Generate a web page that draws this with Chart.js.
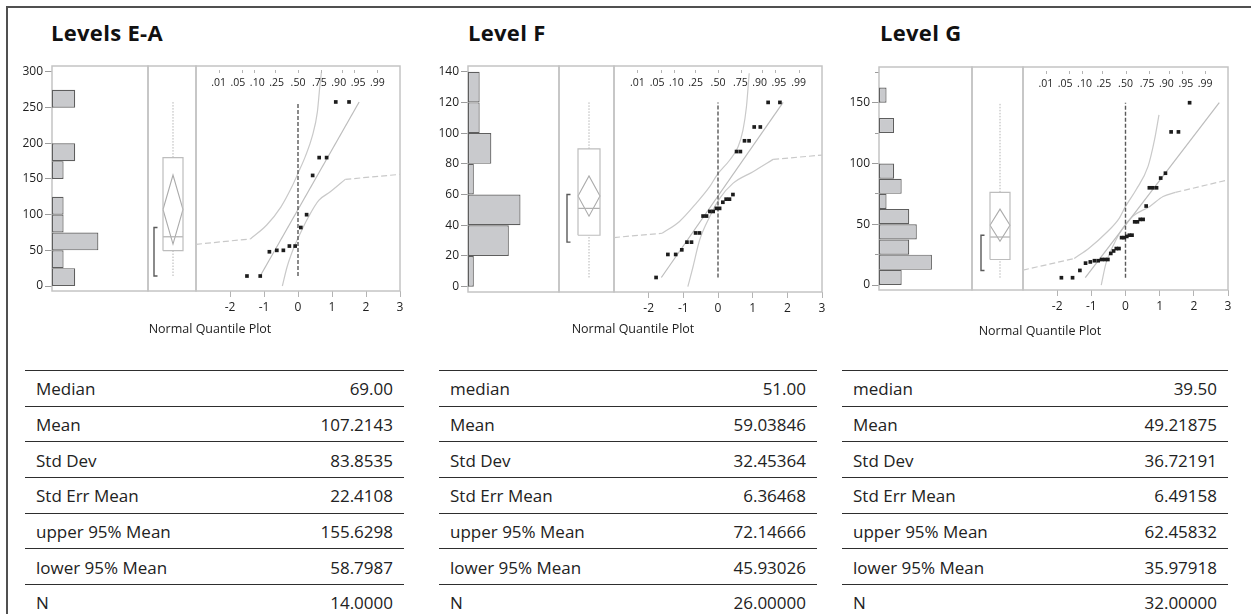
<!DOCTYPE html>
<html>
<head>
<meta charset="utf-8">
<title>Distributions by level</title>
<script src="https://cdn.jsdelivr.net/npm/chart.js@4.4.1/dist/chart.umd.min.js"></script>
<style>
  html, body { margin: 0; padding: 0; background: #fff; }
  #fig { position: relative; width: 1251px; height: 614px; overflow: hidden; background: #fff;
         font-family: "Open Sans", "Noto Sans", sans-serif; color: #1b1b1b; }
  #fig canvas { position: absolute; }
  .edge { position: absolute; background: #505050; }
  .title { position: absolute; font-size: 22px; font-weight: 700; line-height: 22px; letter-spacing: 0.3px; white-space: nowrap; color: #111; }
  .axis-name { position: absolute; font-size: 12.5px; line-height: 14px; white-space: nowrap; transform: translateX(-50%); color: #222; }
  .row { position: absolute; box-sizing: border-box; border-top: 1.5px solid #2e2e2e; font-size: 17px; color: #222; }
  .row span { position: absolute; top: 50%; transform: translateY(-50%); white-space: nowrap; }
  .row .lbl { left: 11px; }
  .row .val { right: 11px; }
</style>
</head>
<body>
<div id="fig">
  <div class="edge" style="left:6px;top:6px;width:1245px;height:2px"></div>
  <div class="edge" style="left:6px;top:6px;width:2px;height:608px"></div>
</div>
<script>
// ---------- observations per level ----------
const valuesEA = [14, 14, 48, 50, 50, 56, 56, 82, 100, 155, 180, 180, 258, 258];
const valuesF  = [6, 21, 21, 24, 29, 29, 35, 35, 46, 46, 49, 49, 51, 51, 55, 57, 57, 60, 88, 88, 95, 95, 104, 104, 120, 120];
const valuesG  = [6, 6, 12, 18, 19, 20, 20, 21, 21, 21, 26, 28, 30, 30, 39, 39, 40, 41, 41, 52, 52, 54, 54, 65, 80, 80, 80, 88, 92, 126, 126, 150];

// histogram bin widths
const binWidthEA = 25;
const binWidthF  = 20;
const binWidthG  = 12.5;

// value axis ticks
const yTicksEA = [0, 50, 100, 150, 200, 250, 300];
const yTicksF  = [0, 20, 40, 60, 80, 100, 120, 140];
const yTicksG  = [0, 50, 100, 150];
const yMinorTicksG = [25, 75, 125, 175];

// normal quantile axis ticks and probability scale
const zTicks = [-2, -1, 0, 1, 2, 3];
const probTicks  = [0.01, 0.05, 0.10, 0.25, 0.50, 0.75, 0.90, 0.95, 0.99];
const probLabels = ['.01', '.05', '.10', '.25', '.50', '.75', '.90', '.95', '.99'];

// summary statistics
const statNamesEA = ['Median', 'Mean', 'Std Dev', 'Std Err Mean', 'upper 95% Mean', 'lower 95% Mean', 'N'];
const statNamesFG = ['median', 'Mean', 'Std Dev', 'Std Err Mean', 'upper 95% Mean', 'lower 95% Mean', 'N'];
const statsEA = ['69.00', '107.2143', '83.8535', '22.4108', '155.6298', '58.7987', '14.0000'];
const statsF  = ['51.00', '59.03846', '32.45364', '6.36468', '72.14666', '45.93026', '26.00000'];
const statsG  = ['39.50', '49.21875', '36.72191', '6.49158', '62.45832', '35.97918', '32.00000'];

// confidence bands of the quantile plots as [normal quantile, value]
const bandHiEAOut = [[-3, 58.4], [-1.4, 66]];
const bandHiEA    = [[-1.4, 66], [-0.92, 85.5], [-0.5, 111], [-0.18, 139], [0, 158], [0.21, 181], [0.42, 210], [0.57, 244], [0.64, 279], [0.69, 300]];
const bandLoEA    = [[-0.46, 0], [-0.32, 27], [-0.13, 53], [0.02, 69], [0.31, 97], [0.61, 120], [0.95, 132], [1.39, 149.5]];
const bandLoEAOut = [[1.39, 149.5], [3, 156.5]];

const bandHiFOut = [[-3, 32], [-1.61, 34.8]];
const bandHiF    = [[-1.61, 34.8], [-1.11, 42.5], [-0.63, 54.3], [-0.24, 65.1], [-0.03, 72.7], [0.34, 82.5], [0.58, 91.1], [0.72, 102], [0.82, 117], [0.9, 139]];
const bandLoF    = [[-0.87, 0], [-0.72, 13], [-0.53, 30.4], [-0.24, 45.6], [0.05, 57.5], [0.43, 67.3], [1.01, 74.9], [1.59, 82.9]];
const bandLoFOut = [[1.59, 82.9], [3, 85.7]];

const bandHiGOut = [[-3, 12.3], [-1.5, 21.8]];
const bandHiG    = [[-1.5, 21.8], [-1.06, 30.5], [-0.57, 42.8], [-0.18, 55.1], [0, 64.7], [0.31, 78.4], [0.66, 97.6], [0.85, 119.6], [0.98, 140]];
const bandLoG    = [[-0.71, 0], [-0.57, 18], [-0.37, 31.8], [-0.08, 46.9], [0.21, 56.5], [0.71, 64.7], [1.1, 72.9], [1.46, 76.2]];
const bandLoGOut = [[1.46, 76.2], [3, 86.5]];

// ---------- page layout ----------
const FONT = '"Open Sans", "Noto Sans", sans-serif';
const PAD = 12;       // spare room around each plot area
const AXIS_W = 52;    // width reserved for value tick labels
const XAXIS_H = 32;   // height of quantile tick labels
const ROW_H = 35.65;
const TABLE_TOP = 370;

const panels = [
  { title: 'Levels E-A', titleX: 51, values: valuesEA, binWidth: binWidthEA, yTicks: yTicksEA, yMinor: [],
    stats: statsEA, statNames: statNamesEA, yMin: -7.0, yMax: 308.4, histMax: 8.28,
    frame: { left: 52, top: 66, bottom: 291, histRight: 148, boxRight: 196, right: 400 },
    box: { bracket: 6, boxL: 15, boxR: 35, whisker: 25 },
    bands: { hi: bandHiEA, hiOut: bandHiEAOut, lo: bandLoEA, loOut: bandLoEAOut },
    axisNameX: 210, axisNameTop: 322, table: { left: 25, right: 404 } },
  { title: 'Level F', titleX: 468, values: valuesF, binWidth: binWidthF, yTicks: yTicksF, yMinor: [],
    stats: statsF, statNames: statNamesFG, yMin: -3.45, yMax: 143.7, histMax: 15.6,
    frame: { left: 468, top: 66, bottom: 292, histRight: 559, boxRight: 614, right: 822 },
    box: { bracket: 8, boxL: 19, boxR: 41, whisker: 30 },
    bands: { hi: bandHiF, hiOut: bandHiFOut, lo: bandLoF, loOut: bandLoFOut },
    axisNameX: 633, axisNameTop: 322, table: { left: 439, right: 817 } },
  { title: 'Level G', titleX: 880, values: valuesG, binWidth: binWidthG, yTicks: yTicksG, yMinor: yMinorTicksG,
    stats: statsG, statNames: statNamesFG, yMin: -4.1, yMax: 179.4, histMax: 12.3,
    frame: { left: 879, top: 67, bottom: 290, histRight: 972, boxRight: 1023, right: 1228 },
    box: { bracket: 9, boxL: 18, boxR: 38, whisker: 28 },
    bands: { hi: bandHiG, hiOut: bandHiGOut, lo: bandLoG, loOut: bandLoGOut },
    axisNameX: 1040, axisNameTop: 324, table: { left: 842, right: 1228 } }
];

// ---------- helpers ----------
function normInv(p) {
  const a = [-3.969683028665376e+01, 2.209460984245205e+02, -2.759285104469687e+02, 1.383577518672690e+02, -3.066479806614716e+01, 2.506628277459239e+00];
  const b = [-5.447609879822406e+01, 1.615858368580409e+02, -1.556989798598866e+02, 6.680131188771972e+01, -1.328068155288572e+01];
  const c = [-7.784894002430293e-03, -3.223964580411365e-01, -2.400758277161838e+00, -2.549732539343734e+00, 4.374664141464968e+00, 2.938163982698783e+00];
  const d = [7.784695709041462e-03, 3.224671290700398e-01, 2.445134137142996e+00, 3.754408661907416e+00];
  const pl = 0.02425;
  if (p < pl) {
    const q = Math.sqrt(-2 * Math.log(p));
    return (((((c[0]*q + c[1])*q + c[2])*q + c[3])*q + c[4])*q + c[5]) / ((((d[0]*q + d[1])*q + d[2])*q + d[3])*q + 1);
  }
  if (p > 1 - pl) {
    const q = Math.sqrt(-2 * Math.log(1 - p));
    return -(((((c[0]*q + c[1])*q + c[2])*q + c[3])*q + c[4])*q + c[5]) / ((((d[0]*q + d[1])*q + d[2])*q + d[3])*q + 1);
  }
  const q = p - 0.5, r = q * q;
  return (((((a[0]*r + a[1])*r + a[2])*r + a[3])*r + a[4])*r + a[5])*q / (((((b[0]*r + b[1])*r + b[2])*r + b[3])*r + b[4])*r + 1);
}

function quantile(sorted, p) {
  const n = sorted.length, pos = (n + 1) * p, lo = Math.floor(pos), f = pos - lo;
  if (lo < 1) return sorted[0];
  if (lo >= n) return sorted[n - 1];
  return sorted[lo - 1] + f * (sorted[lo] - sorted[lo - 1]);
}

function shortestHalf(sorted) {
  const n = sorted.length, k = Math.floor(n / 2) + 1;
  let best = 0, width = Infinity;
  for (let i = 0; i + k - 1 < n; i++) {
    const w = sorted[i + k - 1] - sorted[i];
    if (w < width) { width = w; best = i; }
  }
  return [sorted[best], sorted[best + k - 1]];
}

const pts = arr => arr.map(([x, y]) => ({ x, y }));

const fig = document.getElementById('fig');
function addCanvas(left, top, w, h) {
  const c = document.createElement('canvas');
  c.width = w; c.height = h;
  c.style.left = left + 'px'; c.style.top = top + 'px';
  c.style.width = w + 'px'; c.style.height = h + 'px';
  fig.appendChild(c);
  return c;
}
function addDiv(cls, text, style) {
  const el = document.createElement('div');
  el.className = cls;
  if (text !== null) el.textContent = text;
  Object.assign(el.style, style);
  fig.appendChild(el);
  return el;
}

// outline of each plot area
const framePlugin = {
  id: 'areaFrame',
  beforeDatasetsDraw(chart) {
    const { ctx, chartArea: a } = chart;
    ctx.save();
    ctx.strokeStyle = '#c4c4c4';
    ctx.lineWidth = 1.5;
    ctx.strokeRect(a.left, a.top, a.right - a.left, a.bottom - a.top);
    ctx.restore();
  }
};

// probability scale along the top of the quantile plot
const probAxisPlugin = {
  id: 'probAxis',
  afterDatasetsDraw(chart) {
    const { ctx, chartArea: a, scales: { x } } = chart;
    ctx.save();
    ctx.font = '10.5px ' + FONT;
    const items = probTicks.map((p, i) => {
      const px = x.getPixelForValue(normInv(p));
      return { px, c: px, w: ctx.measureText(probLabels[i]).width, text: probLabels[i] };
    });
    // push crowded labels apart
    for (let it = 0; it < 80; it++) {
      for (let i = 0; i < items.length - 1; i++) {
        const A = items[i], B = items[i + 1];
        const need = (A.w + B.w) / 2 + 4.5 - (B.c - A.c);
        if (need > 0) { A.c -= need / 2; B.c += need / 2; }
      }
    }
    ctx.strokeStyle = '#b4b4b4';
    ctx.lineWidth = 1;
    items.forEach(it => {
      const xx = Math.round(it.px) + 0.5;
      ctx.beginPath(); ctx.moveTo(xx, a.top + 4); ctx.lineTo(xx, a.top + 7); ctx.stroke();
    });
    ctx.fillStyle = '#1e1e1e';
    ctx.textAlign = 'center';
    ctx.textBaseline = 'middle';
    items.forEach(it => ctx.fillText(it.text, it.c, a.top + 17));
    ctx.restore();
  }
};

Chart.defaults.font.family = FONT;
Chart.defaults.color = '#1e1e1e';
Chart.defaults.animation = false;
Chart.defaults.responsive = false;
Chart.defaults.devicePixelRatio = 1;
Chart.defaults.plugins.legend.display = false;
Chart.defaults.plugins.tooltip.enabled = false;

const lineSet = (data, color, width, dash, extra) => Object.assign({
  type: 'scatter', data, showLine: true, borderColor: color, borderWidth: width,
  borderDash: dash || [], pointRadius: 0, fill: false, tension: 0
}, extra || {});

function buildPanel(p) {
  const f = p.frame;
  const sorted = p.values.slice().sort((a, b) => a - b);
  const n = sorted.length;
  const st = p.stats.map(Number);
  const median = st[0], mean = st[1], sd = st[2], upper95 = st[4], lower95 = st[5];
  const frameH = f.bottom - f.top;

  // ---- title ----
  addDiv('title', p.title, { left: p.titleX + 'px', top: '21px' });

  // ---- histogram ----
  const top = Math.max(...p.yTicks, ...(p.yMinor.length ? p.yMinor : [0]));
  const bins = [];
  for (let lo = 0; lo < top; lo += p.binWidth) {
    const hi = lo + p.binWidth;
    bins.push({ x: p.values.filter(v => v >= lo && v < hi).length, y: lo + p.binWidth / 2 });
  }
  const histW = f.histRight - f.left;
  const hc = addCanvas(f.left - AXIS_W, f.top - PAD, AXIS_W + histW + PAD, frameH + 2 * PAD);
  const histScales = {
    x: { type: 'linear', display: false, min: 0, max: p.histMax },
    y: {
      type: 'linear', position: 'left', weight: 1, min: p.yMin, max: p.yMax, offset: false,
      afterBuildTicks: s => { s.ticks = p.yTicks.map(v => ({ value: v })); },
      afterFit: s => { s.width = AXIS_W; s.paddingTop = 0; s.paddingBottom = 0; },
      border: { display: false },
      grid: { offset: false, drawOnChartArea: false, drawTicks: true, tickLength: 7, tickColor: '#9c9c9c' },
      ticks: { font: { size: 12 }, color: '#1e1e1e', padding: 2, autoSkip: false }
    }
  };
  if (p.yMinor.length) {
    histScales.yMinor = {
      type: 'linear', position: 'left', weight: 0, min: p.yMin, max: p.yMax, offset: false,
      afterBuildTicks: s => { s.ticks = p.yMinor.map(v => ({ value: v })); },
      afterFit: s => { s.width = 0; s.paddingTop = 0; s.paddingBottom = 0; },
      border: { display: false },
      grid: { offset: false, drawOnChartArea: false, drawTicks: true, tickLength: 4, tickColor: '#9c9c9c' },
      ticks: { display: false }
    };
  }
  new Chart(hc, {
    type: 'bar',
    data: { datasets: [{
      data: bins, backgroundColor: '#c9cacd', borderColor: '#5e5e5e', borderWidth: 1.2,
      borderSkipped: false, inflateAmount: 0, barPercentage: 1, categoryPercentage: 1
    }] },
    options: {
      indexAxis: 'y',
      layout: { padding: { left: 0, right: PAD, top: PAD, bottom: PAD } },
      scales: histScales
    },
    plugins: [framePlugin]
  });

  // ---- box plot with mean diamond and shortest half ----
  const q1 = quantile(sorted, 0.25), q3 = quantile(sorted, 0.75), iqr = q3 - q1;
  const wLo = Math.min(...sorted.filter(v => v >= q1 - 1.5 * iqr));
  const wHi = Math.max(...sorted.filter(v => v <= q3 + 1.5 * iqr));
  const [shLo, shHi] = shortestHalf(sorted);
  const b = p.box, boxW = f.boxRight - f.histRight, mid = (b.boxL + b.boxR) / 2;
  const bc = addCanvas(f.histRight - PAD, f.top - PAD, boxW + 2 * PAD, frameH + 2 * PAD);
  const boxGray = '#bdbdbd';
  new Chart(bc, {
    type: 'scatter',
    data: { datasets: [
      lineSet([{ x: b.boxL, y: q1 }, { x: b.boxR, y: q1 }, { x: b.boxR, y: q3 }, { x: b.boxL, y: q3 }, { x: b.boxL, y: q1 }], boxGray, 1.2),
      lineSet([{ x: b.boxL, y: median }, { x: b.boxR, y: median }], '#b0b0b0', 1.2),
      lineSet([{ x: b.boxL, y: mean }, { x: mid, y: upper95 }, { x: b.boxR, y: mean }, { x: mid, y: lower95 }, { x: b.boxL, y: mean }], '#ababab', 1.1),
      lineSet([{ x: b.whisker, y: q3 }, { x: b.whisker, y: wHi }], '#b4b4b4', 1, [1.5, 1.5]),
      lineSet([{ x: b.whisker, y: wLo }, { x: b.whisker, y: q1 }], '#b4b4b4', 1, [1.5, 1.5]),
      lineSet([{ x: b.bracket + 3.5, y: shLo }, { x: b.bracket, y: shLo }, { x: b.bracket, y: shHi }, { x: b.bracket + 3.5, y: shHi }], '#5a5a5a', 1.4)
    ] },
    options: {
      layout: { padding: PAD },
      scales: {
        x: { type: 'linear', display: false, min: 0, max: boxW },
        y: { type: 'linear', display: false, min: p.yMin, max: p.yMax }
      }
    },
    plugins: [framePlugin]
  });

  // ---- normal quantile plot ----
  const qPoints = sorted.map((v, i) => ({ x: normInv((i + 1) / (n + 1)), y: v }));
  const vMin = sorted[0], vMax = sorted[n - 1];
  const fitLine = [{ x: (vMin - mean) / sd, y: vMin }, { x: (vMax - mean) / sd, y: vMax }];
  const qW = f.right - f.boxRight;
  const qc = addCanvas(f.boxRight - PAD, f.top - PAD, qW + 2 * PAD, frameH + PAD + XAXIS_H);
  const bandColor = '#c9c9c9';
  new Chart(qc, {
    type: 'scatter',
    data: { datasets: [
      { data: qPoints, pointStyle: 'rect', pointRadius: 2.6, pointBackgroundColor: '#1c1c1c', pointBorderWidth: 0, showLine: false },
      lineSet([{ x: 0, y: vMin }, { x: 0, y: vMax }], '#5a5a5a', 1.4, [4, 2]),
      lineSet(fitLine, '#bcbcbc', 1.2),
      lineSet(pts(p.bands.hi), bandColor, 1.2, [], { cubicInterpolationMode: 'monotone' }),
      lineSet(pts(p.bands.lo), bandColor, 1.2, [], { cubicInterpolationMode: 'monotone' }),
      lineSet(pts(p.bands.hiOut), bandColor, 1.2, [6, 3]),
      lineSet(pts(p.bands.loOut), bandColor, 1.2, [6, 3])
    ] },
    options: {
      layout: { padding: { left: PAD, right: PAD, top: PAD, bottom: 0 } },
      scales: {
        x: {
          type: 'linear', position: 'bottom', min: -3, max: 3,
          afterBuildTicks: s => { s.ticks = zTicks.map(v => ({ value: v })); },
          afterFit: s => { s.height = XAXIS_H; s.paddingLeft = 0; s.paddingRight = 0; },
          border: { display: false },
          grid: { drawOnChartArea: false, drawTicks: true, tickLength: 6, tickColor: '#b4b4b4' },
          ticks: { font: { size: 12 }, color: '#1e1e1e', padding: 3, maxRotation: 0, autoSkip: false }
        },
        y: { type: 'linear', display: false, min: p.yMin, max: p.yMax }
      }
    },
    plugins: [framePlugin, probAxisPlugin]
  });

  addDiv('axis-name', 'Normal Quantile Plot', { left: p.axisNameX + 'px', top: p.axisNameTop + 'px' });

  // ---- summary table ----
  p.statNames.forEach((name, i) => {
    const row = addDiv('row', null, {
      left: p.table.left + 'px', top: (TABLE_TOP + i * ROW_H) + 'px',
      width: (p.table.right - p.table.left) + 'px', height: ROW_H + 'px'
    });
    const l = document.createElement('span'); l.className = 'lbl'; l.textContent = name;
    const v = document.createElement('span'); v.className = 'val'; v.textContent = p.stats[i];
    row.appendChild(l); row.appendChild(v);
  });
}

panels.forEach(buildPanel);
</script>
</body>
</html>
